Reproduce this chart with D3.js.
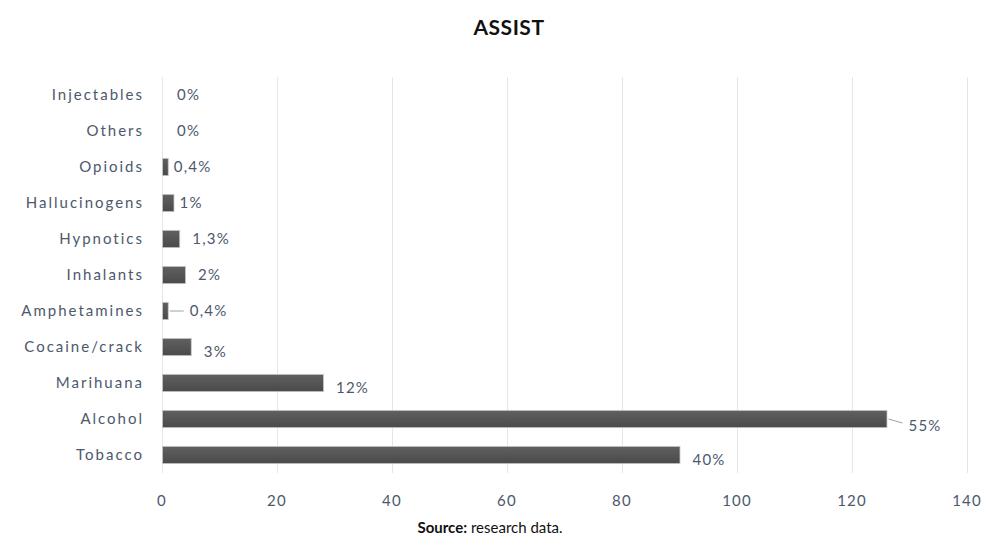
<!DOCTYPE html>
<html>
<head>
<meta charset="utf-8">
<script src="https://cdn.jsdelivr.net/npm/d3@7"></script>
<style>
  body { margin: 0; background: #fff; }
  text { font-family: Lato, "Open Sans", sans-serif; }
</style>
</head>
<body>
<svg id="chart"></svg>
<script>
const categories = ["Injectables", "Others", "Opioids", "Hallucinogens", "Hypnotics", "Inhalants",
  "Amphetamines", "Cocaine/crack", "Marihuana", "Alcohol", "Tobacco"]
const counts = [0, 0, 1, 2, 3, 4, 1, 5, 28, 126, 90]
const percentLabels = ["0%", "0%", "0,4%", "1%", "1,3%", "2%", "0,4%", "3%", "12%", "55%", "40%"]
const xTicks = [0, 20, 40, 60, 80, 100, 120, 140]
const leaderCats = ["Amphetamines", "Alcohol"]

const width = 987
const height = 554
const margin = {top: 77, right: 20, bottom: 81, left: 162}
const textColor = '#4d586c'

const svg = d3.select('#chart')
  .attr('width', width)
  .attr('height', height)

const x = d3.scaleLinear()
  .domain([0, 140])
  .range([margin.left, 967])

const y = d3.scaleBand()
  .domain(categories)
  .range([margin.top, height - margin.bottom])
  .paddingInner(0.52)
  .paddingOuter(0.26)

// gridlines
svg.append('g')
  .selectAll('line')
  .data(xTicks)
  .join('line')
    .attr('x1', d => x(d) + 0.5)
    .attr('x2', d => x(d) + 0.5)
    .attr('y1', margin.top)
    .attr('y2', height - margin.bottom)
    .attr('stroke', '#e3e6ec')
    .attr('stroke-width', 1)

// x tick labels
svg.append('g')
  .selectAll('text')
  .data(xTicks)
  .join('text')
    .attr('x', d => x(d))
    .attr('y', 506)
    .attr('text-anchor', 'middle')
    .attr('fill', textColor)
    .attr('font-size', 15)
    .attr('letter-spacing', 1.2)
    .text(d => d)

// category labels
svg.append('g')
  .selectAll('text')
  .data(categories)
  .join('text')
    .attr('x', 144)
    .attr('y', d => y(d) + y.bandwidth() / 2)
    .attr('dy', '0.35em')
    .attr('text-anchor', 'end')
    .attr('fill', textColor)
    .attr('font-size', 15)
    .attr('letter-spacing', 2)
    .text(d => d)

const grad = svg.append('defs').append('linearGradient')
  .attr('id', 'barGrad')
  .attr('x1', 0).attr('x2', 0).attr('y1', 0).attr('y2', 1)
grad.append('stop').attr('offset', '0%').attr('stop-color', '#606060')
grad.append('stop').attr('offset', '100%').attr('stop-color', '#4a4a4a')

const rows = categories.map((c, i) => ({cat: c, value: counts[i], label: percentLabels[i]}))

// bars
svg.append('g')
  .selectAll('rect')
  .data(rows.filter(d => d.value > 0))
  .join('rect')
    .attr('x', x(0) + 0.5)
    .attr('y', d => y(d.cat))
    .attr('width', d => x(d.value) - x(0))
    .attr('height', y.bandwidth())
    .attr('fill', 'url(#barGrad)')
    .attr('stroke', '#c8c8c8')
    .attr('stroke-width', 0.8)

// leader lines
svg.append('g')
  .selectAll('line')
  .data(rows.filter(d => leaderCats.includes(d.cat)))
  .join('line')
    .attr('x1', d => x(d.value) + 2)
    .attr('x2', d => x(d.value) + 16)
    .attr('y1', d => y(d.cat) + y.bandwidth() / 2)
    .attr('y2', d => y(d.cat) + y.bandwidth() / 2 + (d.cat === 'Alcohol' ? 4 : 0))
    .attr('stroke', '#9aa3b0')
    .attr('stroke-width', 1)

// value labels
svg.append('g')
  .selectAll('text')
  .data(rows)
  .join('text')
    .attr('x', d => x(d.value) + (leaderCats.includes(d.cat) ? 22 : d.value === 0 ? 15 : (d.value < 3 ? 6 : 13)))
    .attr('y', d => y(d.cat) + y.bandwidth() / 2 + (d.value > 4 ? 5 : 0) + (d.cat === 'Alcohol' ? 2 : 0))
    .attr('dy', '0.35em')
    .attr('fill', textColor)
    .attr('font-size', 15)
    .attr('letter-spacing', 1.2)
    .text(d => d.label)

// title
svg.append('text')
  .attr('x', 509)
  .attr('y', 35)
  .attr('text-anchor', 'middle')
  .attr('font-family', '"Open Sans", sans-serif')
  .attr('font-weight', 'bold')
  .attr('font-size', 21)
  .attr('letter-spacing', 0.5)
  .attr('fill', '#111')
  .text('ASSIST')

// source note
const src = svg.append('text')
  .attr('x', 490)
  .attr('y', 533)
  .attr('text-anchor', 'middle')
  .attr('font-family', '"Open Sans", sans-serif')
  .attr('font-size', 15)
  .attr('fill', '#111')
src.append('tspan').attr('font-weight', 'bold').text('Source:')
src.append('tspan').text(' research data.')
</script>
</body>
</html>
